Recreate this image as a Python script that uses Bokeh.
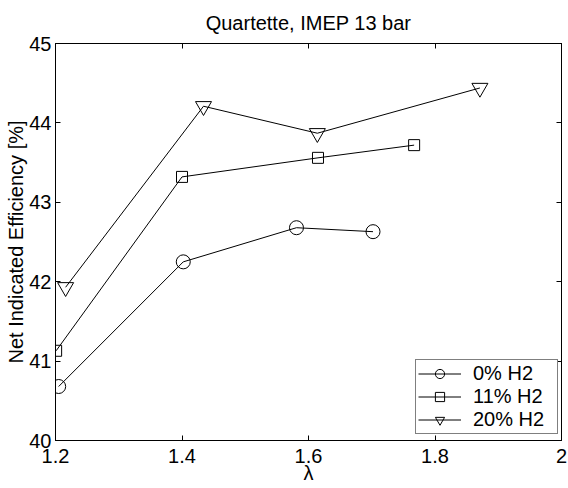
from bokeh.plotting import figure
from bokeh.models import (LinearAxis, Range1d, FixedTicker, Legend, LegendItem,
                          CustomLabelingPolicy)
from bokeh.embed import file_html
from bokeh.resources import INLINE

# ---- data ----
lam_0 = [1.205, 1.402, 1.581, 1.702]
eff_0 = [40.68, 42.25, 42.68, 42.63]
lam_11 = [1.201, 1.400, 1.615, 1.767]
eff_11 = [41.13, 43.32, 43.56, 43.72]
lam_20 = [1.216, 1.434, 1.614, 1.871]
eff_20 = [41.93, 44.21, 43.87, 44.44]

x_ticks = [1.2, 1.4, 1.6, 1.8, 2.0]
x_tick_labels = ["1.2", "1.4", "1.6", "1.8", "2"]
y_ticks = [40, 41, 42, 43, 44, 45]
series_labels = ["0% H2", "11% H2", "20% H2"]

FONT = "Liberation Sans"
FS = "20px"

p = figure(width=568, height=488, output_backend="svg", toolbar_location=None,
           x_range=Range1d(1.2, 2.0), y_range=Range1d(40, 45),
           min_border_left=55, min_border_right=7, min_border_top=42, min_border_bottom=48,
           x_axis_label="λ", y_axis_label="Net Indicated Efficiency [%]")

p.title.text = "Quartette, IMEP 13 bar"
p.title.align = "center"
p.title.text_font = FONT
p.title.text_font_size = FS
p.title.text_font_style = "normal"
p.title.text_color = "black"
p.title.standoff = 19

p.grid.visible = False
p.outline_line_color = "black"
p.outline_line_width = 1
p.background_fill_color = "white"
p.border_fill_color = "white"

no_labels = CustomLabelingPolicy(
    code="const r = indices.clone(); for (const i of indices.ones()) { r.unset(i) } return r")

def style_axis(ax, labels=True):
    ax.axis_line_color = "black"
    ax.major_tick_line_color = "black"
    ax.major_tick_in = 5
    ax.major_tick_out = 0
    ax.minor_tick_line_color = None
    ax.major_label_text_font = FONT
    ax.major_label_text_color = "black"
    ax.axis_label_text_font = FONT
    ax.axis_label_text_font_size = FS
    ax.axis_label_text_font_style = "normal"
    ax.axis_label_text_color = "black"
    if labels:
        ax.major_label_text_font_size = FS
    else:
        ax.major_label_text_font_size = "0px"
        ax.major_label_standoff = 0
        ax.major_label_policy = no_labels

xa = p.xaxis[0]
ya = p.yaxis[0]
xa.ticker = FixedTicker(ticks=x_ticks)
xa.major_label_overrides = {t: l for t, l in zip(x_ticks, x_tick_labels)}
ya.ticker = FixedTicker(ticks=y_ticks)
style_axis(xa)
style_axis(ya)
xa.major_label_standoff = 8
xa.axis_label_standoff = -4
ya.major_label_standoff = 4
ya.axis_label_standoff = -1

top = LinearAxis(ticker=FixedTicker(ticks=x_ticks))
right = LinearAxis(ticker=FixedTicker(ticks=y_ticks))
style_axis(top, labels=False)
style_axis(right, labels=False)
p.add_layout(top, "above")
p.add_layout(right, "right")

items = []
series = [(lam_0, eff_0, "circle", 14), (lam_11, eff_11, "square", 11),
          (lam_20, eff_20, "inverted_triangle", 16)]
for (xs, ys, mk, sz), lab in zip(series, series_labels):
    l = p.line(xs, ys, line_color="black", line_width=1)
    s = p.scatter(xs, ys, marker=mk, size=sz, fill_color=None,
                  line_color="black", line_width=1)
    items.append(LegendItem(label=lab, renderers=[l, s]))

legend = Legend(items=items, location=(360, 6), padding=2, spacing=0,
                label_height=23, glyph_height=23, glyph_width=43,
                label_standoff=12, label_width=82,
                label_text_font=FONT, label_text_font_size=FS,
                label_text_color="black",
                border_line_color="black", border_line_width=1,
                background_fill_color="white", background_fill_alpha=1.0)
p.add_layout(legend, "center")

open("out.html", "w").write(file_html(p, INLINE))
